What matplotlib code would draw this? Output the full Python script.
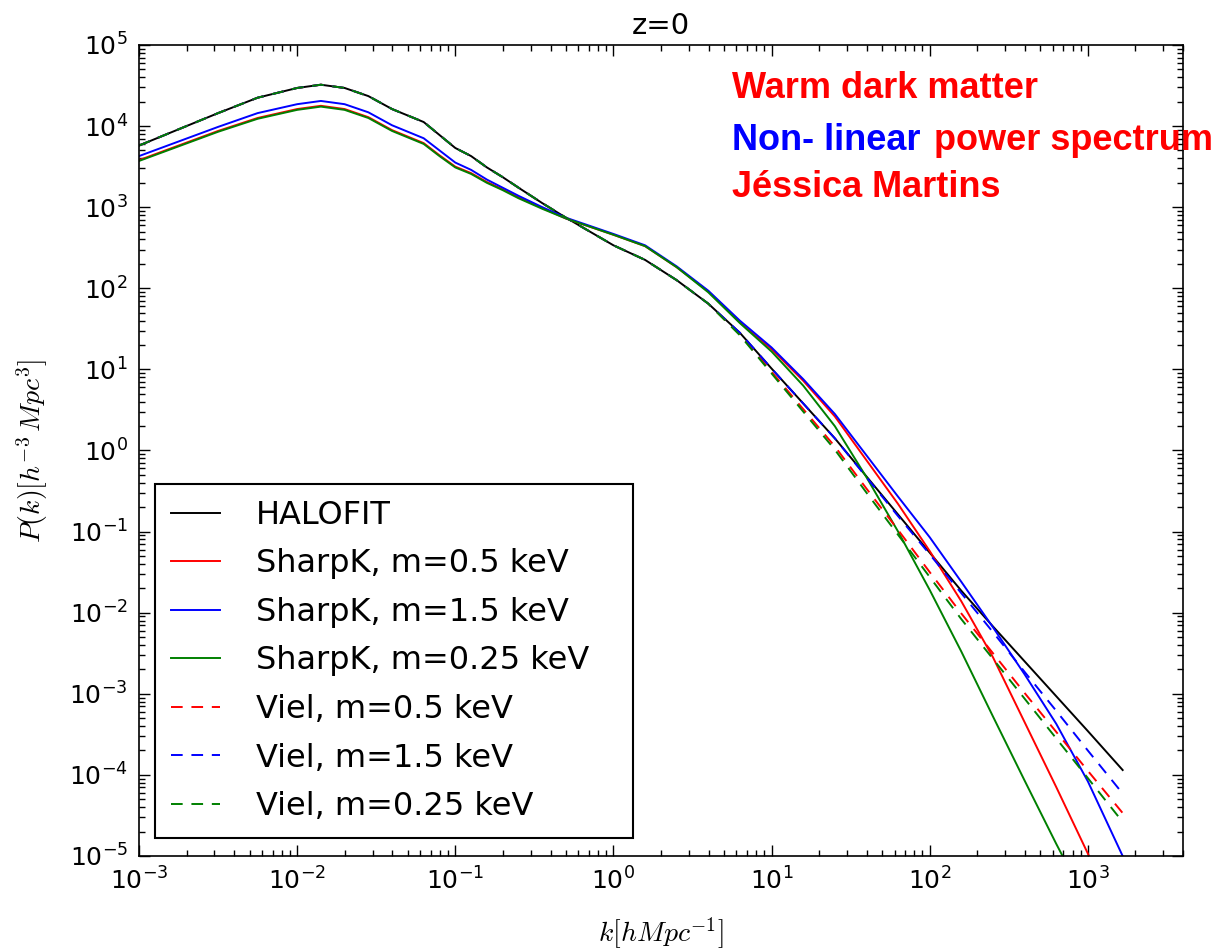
#!/usr/bin/env python3
import matplotlib
matplotlib.use("Agg")
import matplotlib.pyplot as plt
import numpy as np
from matplotlib.ticker import LogLocator, NullFormatter

# log10 k [h/Mpc], shared grid for all curves
LOG_K = [-3.0, -2.75, -2.5, -2.25, -2.0, -1.85, -1.7, -1.55, -1.4, -1.3, -1.2, -1.1,
         -1.0, -0.9, -0.8, -0.7, -0.6, -0.45, -0.3, -0.15, 0.0, 0.2, 0.4, 0.6, 0.8,
         1.0, 1.2, 1.4, 1.6, 1.8, 2.0, 2.2, 2.4, 2.6, 2.8, 3.0, 3.22]

# log10 P(k)
HALOFIT = [3.76, 3.96, 4.16, 4.35, 4.47, 4.51, 4.47, 4.37, 4.21, 4.13, 4.05, 3.89,
           3.73, 3.63, 3.49, 3.37, 3.24, 3.05, 2.87, 2.70, 2.53, 2.35, 2.10, 1.81, 1.45,
           1.01, 0.58, 0.15, -0.32, -0.79, -1.26, -1.73, -2.17, -2.60, -3.03, -3.46, -3.94]
SHARPK_05 = [3.58, 3.76, 3.94, 4.10, 4.21, 4.25, 4.21, 4.11, 3.95, 3.87, 3.79, 3.64,
             3.50, 3.42, 3.31, 3.22, 3.12, 2.99, 2.86, 2.76, 2.66, 2.52, 2.26, 1.96, 1.58,
             1.25, 0.86, 0.42, -0.12, -0.66, -1.24, -1.86, -2.55, -3.35, -4.15, -4.97, -5.90]
SHARPK_15 = [3.63, 3.81, 3.99, 4.16, 4.27, 4.31, 4.27, 4.17, 4.01, 3.93, 3.85, 3.70,
             3.55, 3.46, 3.34, 3.24, 3.14, 3.00, 2.87, 2.77, 2.67, 2.53, 2.27, 1.97, 1.60,
             1.27, 0.88, 0.45, -0.06, -0.57, -1.07, -1.62, -2.18, -2.76, -3.37, -4.08, -5.00]
SHARPK_025 = [3.57, 3.75, 3.93, 4.09, 4.20, 4.24, 4.20, 4.10, 3.94, 3.86, 3.78, 3.63,
              3.49, 3.41, 3.30, 3.21, 3.11, 2.98, 2.86, 2.76, 2.66, 2.52, 2.26, 1.95, 1.57,
              1.22, 0.80, 0.30, -0.33, -1.00, -1.72, -2.48, -3.28, -4.07, -4.85, -5.60, -6.50]
VIEL_05 = [3.76, 3.96, 4.16, 4.35, 4.47, 4.51, 4.47, 4.37, 4.21, 4.13, 4.05, 3.89,
           3.73, 3.63, 3.49, 3.37, 3.24, 3.05, 2.87, 2.70, 2.53, 2.35, 2.10, 1.81, 1.43,
           0.97, 0.51, 0.05, -0.47, -0.98, -1.50, -2.01, -2.50, -2.99, -3.47, -3.95, -4.47]
VIEL_15 = [3.76, 3.96, 4.16, 4.35, 4.47, 4.51, 4.47, 4.37, 4.21, 4.13, 4.05, 3.89,
           3.73, 3.63, 3.49, 3.37, 3.24, 3.05, 2.87, 2.70, 2.53, 2.35, 2.10, 1.81, 1.45,
           1.01, 0.58, 0.15, -0.33, -0.81, -1.28, -1.76, -2.24, -2.73, -3.21, -3.70, -4.23]
VIEL_025 = [3.76, 3.96, 4.16, 4.35, 4.47, 4.51, 4.47, 4.37, 4.21, 4.13, 4.05, 3.89,
            3.73, 3.63, 3.49, 3.37, 3.24, 3.05, 2.87, 2.70, 2.53, 2.35, 2.10, 1.81, 1.42,
            0.95, 0.48, 0.01, -0.52, -1.04, -1.56, -2.08, -2.57, -3.06, -3.55, -4.04, -4.58]

SERIES = [
    ("HALOFIT", HALOFIT, "k", "-"),
    ("SharpK, m=0.5 keV", SHARPK_05, "r", "-"),
    ("SharpK, m=1.5 keV", SHARPK_15, "b", "-"),
    ("SharpK, m=0.25 keV", SHARPK_025, "g", "-"),
    ("Viel, m=0.5 keV", VIEL_05, "r", (0, (6, 4.5))),
    ("Viel, m=1.5 keV", VIEL_15, "b", (0, (6, 4.5))),
    ("Viel, m=0.25 keV", VIEL_025, "g", (0, (6, 4.5))),
]


def main() -> None:
    fig = plt.figure(figsize=(12.27, 9.51), dpi=100)
    ax = fig.add_axes([0.1133, 0.0999, 0.8509, 0.8528])

    k = 10.0 ** np.asarray(LOG_K)
    for label, logp, color, ls in SERIES:
        ax.plot(k, 10.0 ** np.asarray(logp), color=color, linestyle=ls, linewidth=1.4, label=label)

    ax.set_xscale("log")
    ax.set_yscale("log")
    ax.set_xlim(1e-3, 4e3)
    ax.set_ylim(1e-5, 1e5)
    for axis in (ax.xaxis, ax.yaxis):
        axis.set_major_locator(LogLocator(base=10, numticks=20))
        axis.set_minor_locator(LogLocator(base=10, subs=np.arange(2, 10), numticks=20))
        axis.set_minor_formatter(NullFormatter())
    ax.tick_params(which="both", direction="in", top=True, right=True, width=1.0)
    ax.tick_params(which="major", length=8, labelsize=18, pad=8)
    ax.tick_params(which="minor", length=4)
    for sp in ax.spines.values():
        sp.set_linewidth(1.2)

    ax.set_title("z=0", fontsize=21, pad=8)
    ax.set_xlabel(r"$k[hMpc^{-1}]$", fontsize=20, math_fontfamily="cm")
    ax.set_ylabel(r"$P(k)[h^{-3}\,Mpc^{3}]$", fontsize=20, math_fontfamily="cm")
    ax.xaxis.set_label_coords(0.5, -0.074)
    ax.yaxis.set_label_coords(-0.085, 0.5)

    leg = ax.legend(loc="lower left", bbox_to_anchor=(0.0153, 0.022, 0.458, 0.4), mode="expand",
                    fontsize=23, handlelength=1.55, handletextpad=1.1, labelspacing=0.55,
                    borderpad=0.5, borderaxespad=0, fancybox=False, framealpha=1)
    leg.get_frame().set_edgecolor("k")
    leg.get_frame().set_linewidth(1.5)

    W, H = 1227.0, 951.0
    font = dict(family="Liberation Sans", weight="bold", fontsize=26, va="baseline", ha="left")
    fig.text(732 / W, 1 - 98 / H, "Warm dark matter", color="red", **font)
    t_blue = fig.text(732 / W, 1 - 150 / H, "Non- linear", color="blue", **font)
    fig.text(732 / W, 1 - 197 / H, "Jéssica Martins", color="red", **font)
    fig.canvas.draw()
    bb = t_blue.get_window_extent(fig.canvas.get_renderer())
    fig.text((bb.x1 + 13) / W, 1 - 150 / H, "power spectrum", color="red", **font)

    fig.savefig("out.png", dpi=100)
    plt.close(fig)


if __name__ == "__main__":
    main()
